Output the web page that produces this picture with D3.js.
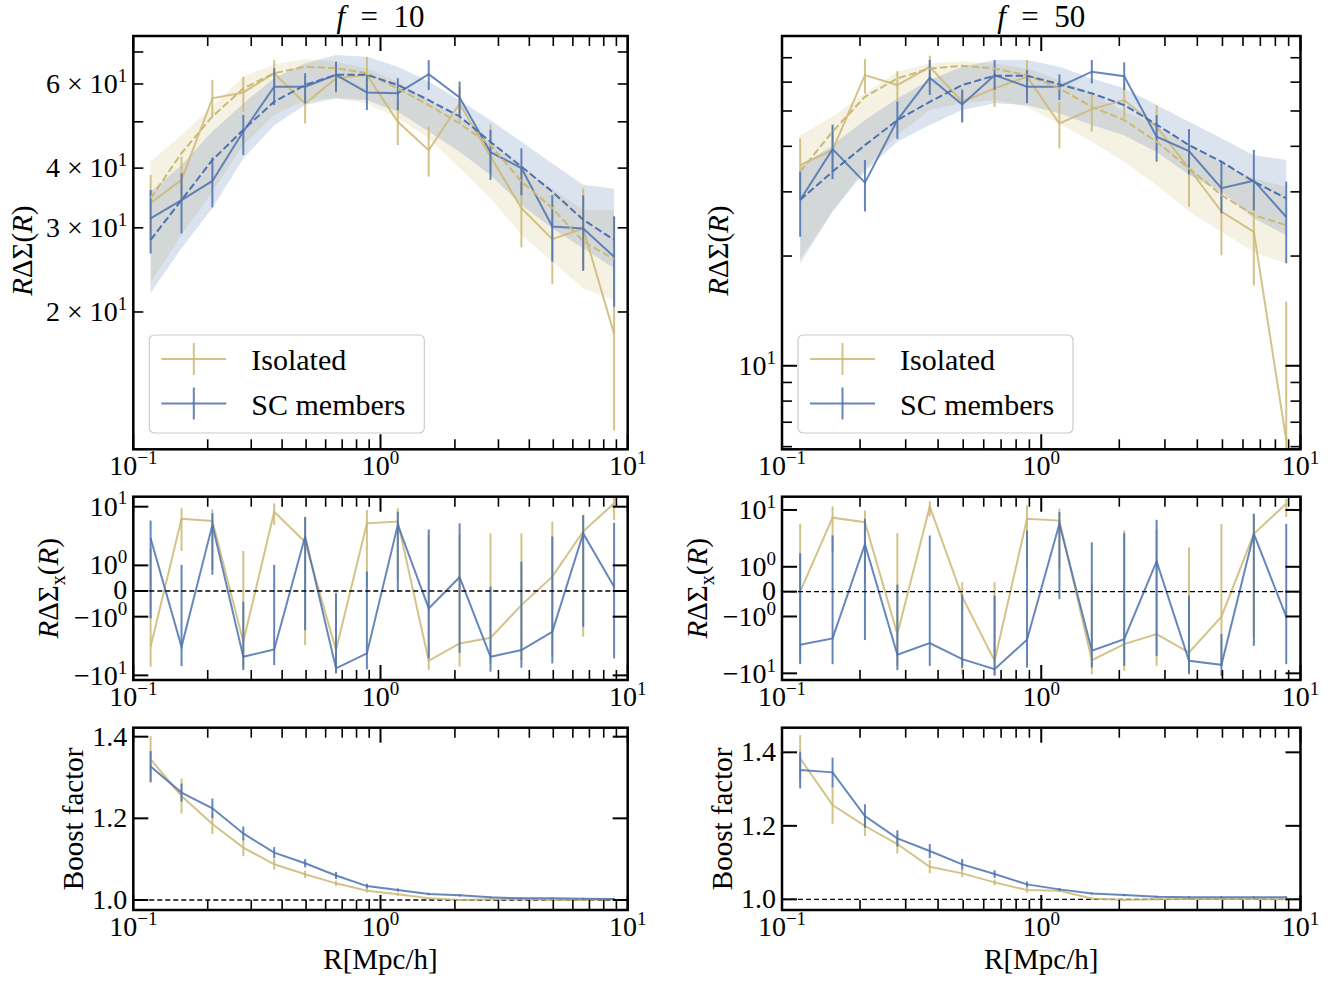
<!DOCTYPE html>
<html>
<head>
<meta charset="utf-8">
<script src="https://cdn.jsdelivr.net/npm/d3@7"></script>
<style>
  body { margin: 0; background: #fff; }
  svg text { font-family: "Liberation Serif", "DejaVu Serif", serif; fill: #000; }
</style>
</head>
<body>
<div id="chart"></div>
<script>
// radial bins (Mpc/h)
var R = [0.1175, 0.1567, 0.2089, 0.2786, 0.3715, 0.4955, 0.6607, 0.881, 1.175, 1.567, 2.089, 2.786, 3.715, 4.955, 6.607, 8.81];

// ---- f = 10 : R*DeltaSigma
var isoL    = [33.8, 37.8, 56.0, 57.6, 63.2, 54.6, 61.7, 62.7, 50.0, 43.6, 54.6, 42.3, 33.0, 28.4, 29.9, 18.0];
var isoLlo  = [28.3, 34.0, 51.3, 52.5, 59.2, 49.6, 57.4, 58.3, 44.7, 38.4, 49.6, 39.0, 27.3, 22.9, 24.4, 11.3];
var isoLhi  = [38.7, 42.3, 61.2, 62.1, 67.3, 60.7, 65.7, 68.4, 55.1, 48.8, 59.2, 49.4, 40.0, 33.5, 36.3, 31.7];
var scL     = [31.4, 34.3, 37.6, 47.7, 59.2, 59.2, 62.7, 57.6, 57.4, 62.9, 56.2, 43.2, 40.0, 30.2, 29.9, 26.1];
var scLlo   = [26.5, 29.2, 33.1, 42.6, 54.2, 54.6, 57.8, 52.9, 52.9, 58.3, 51.3, 37.8, 35.1, 25.5, 24.4, 20.5];
var scLhi   = [36.0, 39.0, 42.1, 51.7, 64.7, 63.2, 66.8, 62.7, 61.7, 67.3, 60.7, 48.1, 44.0, 35.1, 35.1, 31.7];
var isoModL = [34.6, 43.0, 51.3, 58.7, 63.2, 65.2, 64.7, 63.2, 58.7, 54.2, 49.6, 44.7, 37.5, 33.0, 28.1, 25.8];
var scModL  = [28.3, 34.3, 41.6, 48.1, 55.1, 59.7, 62.7, 62.7, 59.7, 55.5, 51.3, 45.4, 40.3, 35.7, 31.2, 28.3];
var isoBandLlo = [23.0, 29.0, 35.7, 44.7, 51.7, 55.5, 56.0, 54.6, 50.9, 46.2, 40.0, 34.6, 29.0, 25.5, 22.4, 21.2];
var isoBandLhi = [41.3, 46.9, 53.8, 62.1, 65.9, 67.7, 66.8, 64.7, 60.7, 55.5, 50.9, 45.4, 40.3, 36.2, 32.7, 32.7];
var scBandLlo  = [21.9, 27.2, 33.0, 41.9, 49.2, 54.2, 56.0, 55.5, 52.5, 47.7, 43.3, 38.7, 33.5, 29.9, 27.2, 24.7];
var scBandLhi  = [35.7, 40.6, 47.7, 54.6, 61.7, 66.3, 69.0, 68.4, 65.2, 60.7, 55.5, 50.4, 45.4, 40.9, 36.9, 36.2];

// ---- f = 50 : R*DeltaSigma
var isoR    = [35.5, 39.1, 62.7, 58.9, 66.1, 53.0, 57.7, 62.1, 46.2, 50.6, 53.6, 45.3, 34.8, 26.5, 23.3, 6.25];
var isoRlo  = [28.8, 34.1, 55.9, 52.5, 58.9, 46.7, 51.3, 54.7, 39.5, 43.9, 47.7, 39.1, 27.3, 20.1, 16.6, 3.0];
var isoRhi  = [42.1, 45.3, 69.4, 64.3, 70.9, 57.7, 63.4, 69.0, 53.0, 56.5, 59.5, 51.9, 40.3, 32.0, 29.4, 15.0];
var scR     = [28.5, 39.3, 31.8, 47.2, 61.7, 52.1, 62.7, 58.3, 58.3, 64.1, 62.3, 42.5, 38.8, 30.7, 32.2, 25.6];
var scRlo   = [22.6, 32.5, 26.5, 41.9, 55.3, 46.5, 57.1, 52.5, 53.6, 59.5, 57.1, 36.3, 33.5, 26.2, 26.7, 19.1];
var scRhi   = [34.1, 45.9, 36.7, 53.0, 69.0, 57.1, 69.0, 64.7, 63.0, 69.0, 68.0, 48.7, 44.6, 36.3, 39.1, 32.0];
var isoModR = [34.1, 43.9, 54.7, 61.4, 65.4, 66.5, 65.4, 62.7, 57.7, 51.3, 47.2, 41.2, 34.8, 29.4, 25.9, 24.3];
var scModR  = [28.5, 34.1, 40.3, 47.2, 53.0, 58.9, 62.5, 62.5, 59.2, 55.9, 51.9, 45.9, 40.3, 36.3, 32.0, 28.8];
var isoBandRlo = [19.7, 26.5, 34.8, 42.9, 50.3, 52.5, 53.6, 51.3, 46.2, 41.2, 36.3, 31.3, 26.5, 23.3, 20.5, 19.1];
var isoBandRhi = [42.9, 48.2, 55.9, 64.1, 67.5, 68.5, 67.5, 65.4, 60.8, 55.9, 49.8, 45.8, 40.3, 35.9, 32.7, 31.0];
var scBandRlo  = [19.1, 26.5, 34.1, 41.2, 45.8, 50.3, 52.5, 51.9, 49.3, 45.8, 42.9, 38.6, 33.4, 30.0, 25.4, 22.8];
var scBandRhi  = [35.2, 40.3, 47.2, 54.1, 60.8, 66.1, 69.0, 69.0, 66.1, 61.4, 57.7, 51.9, 46.7, 42.1, 37.8, 36.7];

// ---- cross component (symlog)
var isoXL   = [-3.26, 6.2, 5.7, -2.68, 8.2, 2.5, -3.71, 5.2, 5.6, -5.64, -2.86, -2.29, -0.55, 0.56, 3.8, 11.4];
var isoXLlo = [-7.13, 1.76, 0.82, -7.32, 4.9, -3.05, -9.02, 0.17, 0.43, -8.1, -7.13, -6.26, -5.49, -4.70, -2.20, 5.9];
var isoXLhi = [1.96, 9.4, 9.0, 1.76, 11.4, 6.8, -0.09, 8.8, 9.4, 3.3, 3.3, 3.5, 3.5, 5.6, 7.2, 14.8];
var scXL    = [2.9, -3.26, 4.9, -4.82, -3.62, 3.1, -7.6, -4.23, 4.9, -0.68, 0.54, -4.82, -3.71, -1.81, 3.5, 0.17];
var scXLlo  = [-1.07, -6.95, 0.63, -8.13, -6.68, -1.70, -9.26, -7.92, -0.03, -5.14, -4.12, -8.67, -7.42, -6.26, -1.49, -5.14];
var scXLhi  = [5.8, 1.02, 7.7, -0.42, 1.02, 6.6, -0.09, 0.76, 8.2, 4.1, 5.2, 0.17, 1.16, 3.1, 7.2, 5.3];

var isoXR   = [0, 7.3, 6.1, -2.04, 11.5, -0.2, -6.03, 7.0, 6.5, -5.87, -3.06, -2.04, -4.30, -1.01, 3.8, 12.9];
var isoXRlo = [-6.45, 1.8, 0.31, -7.38, 7.7, -10.4, -11.1, 0.98, 0.92, -10.4, -9.04, -7.38, -9.67, -7.38, -2.34, 7.5];
var isoXRhi = [5.7, 11.5, 9.8, 3.9, 14.3, 0.38, 0.38, 12.0, 10.5, 0.31, 4.35, 4.5, 2.2, 5.7, 8.3, 15.7];
var scXR    = [-3.15, -2.43, 2.5, -4.72, -2.94, -5.63, -8.45, -2.57, 5.7, -4.01, -2.50, 1.24, -6.03, -7.09, 3.8, -1.01];
var scXRlo  = [-6.90, -6.90, -2.60, -8.80, -7.38, -7.90, -10.8, -7.90, -0.30, -7.90, -7.38, -4.92, -10.4, -11.1, -3.28, -6.90];
var scXRhi  = [1.73, 3.55, 7.0, 0.28, 3.55, -0.12, -0.16, 4.35, 9.2, 2.7, 3.9, 6.7, -0.16, -2.04, 8.6, 5.7];

// ---- boost factor
var isoBL    = [1.3445, 1.2547, 1.1861, 1.1282, 1.0874, 1.0629, 1.0408, 1.0229, 1.0139, 1.0041, 1.0, 1.0016, 1.0024, 1.0, 1.0, 1.0016];
var isoBLerr = [0.057, 0.043, 0.025, 0.021, 0.013, 0.009, 0.0065, 0.005, 0.004, 0.003, 0.002, 0.002, 0.002, 0.002, 0.002, 0.002];
var scBL     = [1.327, 1.263, 1.2245, 1.163, 1.116, 1.090, 1.060, 1.034, 1.0245, 1.0147, 1.0114, 1.0065, 1.0041, 1.0041, 1.0033, 1.0024];
var scBLerr  = [0.038, 0.022, 0.024, 0.017, 0.0135, 0.01, 0.0085, 0.006, 0.004, 0.003, 0.003, 0.002, 0.002, 0.002, 0.002, 0.002];
var isoBR    = [1.3836, 1.2566, 1.1995, 1.1505, 1.0888, 1.0707, 1.0462, 1.0253, 1.0235, 1.0026, 0.998, 1.0, 1.0008, 1.0008, 1.0008, 1.0];
var isoBRerr = [0.063, 0.051, 0.027, 0.026, 0.018, 0.010, 0.0077, 0.0073, 0.003, 0.003, 0.003, 0.003, 0.003, 0.003, 0.003, 0.003];
var scBR     = [1.3518, 1.3455, 1.2267, 1.1659, 1.1314, 1.0952, 1.0688, 1.0407, 1.0271, 1.0162, 1.0117, 1.0072, 1.0054, 1.0054, 1.0054, 1.0054];
var scBRerr  = [0.05, 0.04, 0.032, 0.022, 0.0195, 0.0145, 0.0104, 0.0077, 0.004, 0.003, 0.003, 0.003, 0.003, 0.003, 0.003, 0.003];

var legendLabels = ["Isolated", "SC members"];

(function(){
  var width = 1341, height = 981;
  var yellow = "#ccb974", blue = "#4c72b0";
  var majLen = 15, minLen = 10;

  var svg = d3.select("#chart").append("svg")
    .attr("width", width).attr("height", height);
  svg.append("rect").attr("width", width).attr("height", height).attr("fill", "#fff");
  var defs = svg.append("defs");
  var clipN = 0;

  // symlog transform, linthresh = 1
  var C = 0.437;
  function T(v) {
    var a = Math.abs(v);
    return Math.sign(v) * (a <= 1 ? C * a : C + Math.log10(a));
  }

  var cols = [
    { x0: 133.3, x1: 627.7, f: "10", ylx: [22, 48, 73],
      top: { dom: [10.32, 75.6], iso: isoL, isoLo: isoLlo, isoHi: isoLhi, sc: scL, scLo: scLlo, scHi: scLhi,
             isoMod: isoModL, scMod: scModL, isoB: [isoBandLlo, isoBandLhi], scB: [scBandLlo, scBandLhi],
             labels: [[20, "2 × 10", "1"], [30, "3 × 10", "1"], [40, "4 × 10", "1"], [60, "6 × 10", "1"]] },
      mid: { dom: [-12.0, 14.8], iso: isoXL, isoLo: isoXLlo, isoHi: isoXLhi, sc: scXL, scLo: scXLlo, scHi: scXLhi },
      bot: { dom: [0.9755, 1.422], iso: isoBL, isoE: isoBLerr, sc: scBL, scE: scBLerr } },
    { x0: 782, x1: 1300.5, f: "50", ylx: [718, 697, 722],
      top: { dom: [5.9, 80.3], iso: isoR, isoLo: isoRlo, isoHi: isoRhi, sc: scR, scLo: scRlo, scHi: scRhi,
             isoMod: isoModR, scMod: scModR, isoB: [isoBandRlo, isoBandRhi], scB: [scBandRlo, scBandRhi],
             labels: [[10, "10", "1"]] },
      mid: { dom: [-13.1, 17.1], iso: isoXR, isoLo: isoXRlo, isoHi: isoXRhi, sc: scXR, scLo: scXRlo, scHi: scXRhi },
      bot: { dom: [0.971, 1.467], iso: isoBR, isoE: isoBRerr, sc: scBR, scE: scBRerr } }
  ];
  var rows = { top: [36, 449.3], mid: [496.7, 680], bot: [727.7, 910] };

  function supText(g, x, y, base, exp, anchor, size) {
    var t = g.append("text").attr("x", x).attr("y", y)
      .attr("text-anchor", anchor).style("font-size", size + "px");
    t.append("tspan").text(base);
    t.append("tspan").attr("dy", -size * 0.4).style("font-size", (size * 0.68) + "px").text(exp);
    return t;
  }

  function clipFor(g, x0, x1, y0, y1) {
    var id = "clip" + (clipN++);
    defs.append("clipPath").attr("id", id).append("rect")
      .attr("x", x0).attr("y", y0).attr("width", x1 - x0).attr("height", y1 - y0);
    return g.append("g").attr("clip-path", "url(#" + id + ")");
  }

  function xAxis(g, x, y0, y1) {
    var ticks = [];
    [0.1, 1, 10].forEach(function(d){ ticks.push({ v: d, major: true }); });
    [0.1, 1].forEach(function(d){
      for (var k = 2; k <= 9; k++) ticks.push({ v: k * d, major: false });
    });
    ticks.forEach(function(t){
      var len = t.major ? majLen : minLen, w = t.major ? 2 : 1.6;
      g.append("line").attr("x1", x(t.v)).attr("x2", x(t.v)).attr("y1", y1).attr("y2", y1 - len)
        .attr("stroke", "#000").attr("stroke-width", w);
      g.append("line").attr("x1", x(t.v)).attr("x2", x(t.v)).attr("y1", y0).attr("y2", y0 + len)
        .attr("stroke", "#000").attr("stroke-width", w);
    });
    [[0.1, "−1"], [1, "0"], [10, "1"]].forEach(function(l){
      supText(g, x(l[0]), y1 + 26, "10", l[1], "middle", 28);
    });
  }

  function yTicks(g, y, x0, x1, ticks) {
    ticks.forEach(function(t){
      var len = t.major ? majLen : minLen, w = t.major ? 2 : 1.6;
      g.append("line").attr("x1", x0).attr("x2", x0 + len).attr("y1", y(t.v)).attr("y2", y(t.v))
        .attr("stroke", "#000").attr("stroke-width", w);
      g.append("line").attr("x1", x1).attr("x2", x1 - len).attr("y1", y(t.v)).attr("y2", y(t.v))
        .attr("stroke", "#000").attr("stroke-width", w);
    });
  }

  function frame(g, x0, x1, y0, y1) {
    g.append("rect").attr("x", x0).attr("y", y0).attr("width", x1 - x0).attr("height", y1 - y0)
      .attr("fill", "none").attr("stroke", "#000").attr("stroke-width", 2.5);
  }

  function errSeries(g, x, y, vals, lo, hi, color) {
    g.selectAll(null).data(R).enter().append("line")
      .attr("x1", function(d){ return x(d); }).attr("x2", function(d){ return x(d); })
      .attr("y1", function(d, i){ return y(lo[i]); })
      .attr("y2", function(d, i){ return y(hi[i]); })
      .attr("stroke", color).attr("stroke-width", 2).attr("opacity", 0.85);
    g.append("path").datum(vals)
      .attr("d", d3.line().x(function(d, i){ return x(R[i]); }).y(function(d){ return y(d); }))
      .attr("fill", "none").attr("stroke", color).attr("stroke-width", 2).attr("opacity", 0.85);
  }

  function yLabel(g, cx, cy, parts) {
    var t = g.append("text").attr("transform", "translate(" + cx + "," + cy + ") rotate(-90)")
      .attr("text-anchor", "middle").attr("dy", "0.35em").style("font-size", "29px");
    parts.forEach(function(p){
      var s = t.append("tspan").text(p.t);
      if (p.i) s.style("font-style", "italic");
      if (p.dy) s.attr("dy", p.dy);
      if (p.fs) s.style("font-size", p.fs);
    });
  }

  function legend(g, bx) {
    var by = 335, bw = 275, bh = 98;
    g.append("rect").attr("x", bx).attr("y", by).attr("width", bw).attr("height", bh)
      .attr("rx", 5).attr("fill", "#fff").attr("fill-opacity", 0.8)
      .attr("stroke", "#cccccc").attr("stroke-width", 1.2);
    [[yellow, 359], [blue, 403.5]].forEach(function(r, i){
      g.append("line").attr("x1", bx + 12).attr("x2", bx + 77).attr("y1", r[1]).attr("y2", r[1])
        .attr("stroke", r[0]).attr("stroke-width", 2).attr("opacity", 0.85);
      g.append("line").attr("x1", bx + 44.5).attr("x2", bx + 44.5).attr("y1", r[1] - 16).attr("y2", r[1] + 16)
        .attr("stroke", r[0]).attr("stroke-width", 2).attr("opacity", 0.85);
      g.append("text").attr("x", bx + 102).attr("y", r[1] + 11).style("font-size", "30px")
        .text(legendLabels[i]);
    });
  }

  cols.forEach(function(c){
    var g = svg.append("g");
    var x = d3.scaleLog().domain([0.1, 10]).range([c.x0, c.x1]);
    var cx = (c.x0 + c.x1) / 2;

    // title
    var tt = g.append("text").attr("x", cx).attr("y", 27).attr("text-anchor", "middle").style("font-size", "31px");
    tt.append("tspan").style("font-style", "italic").text("f");
    tt.append("tspan").text("\u2002=\u2002" + c.f);

    // ---------- top panel
    var r = rows.top, p = c.top;
    var yTop = d3.scaleLog().domain(p.dom).range([r[1], r[0]]);
    var pg = clipFor(g, c.x0, c.x1, r[0], r[1]);
    var band = function(b){
      return d3.area().x(function(d, i){ return x(R[i]); })
        .y0(function(d, i){ return yTop(b[0][i]); }).y1(function(d, i){ return yTop(b[1][i]); });
    };
    pg.append("path").datum(R).attr("d", band(p.isoB)).attr("fill", yellow).attr("fill-opacity", 0.2);
    pg.append("path").datum(R).attr("d", band(p.scB)).attr("fill", blue).attr("fill-opacity", 0.2);
    errSeries(pg, x, yTop, p.iso, p.isoLo, p.isoHi, yellow);
    errSeries(pg, x, yTop, p.sc, p.scLo, p.scHi, blue);
    [[p.isoMod, yellow], [p.scMod, blue]].forEach(function(m){
      pg.append("path").datum(m[0])
        .attr("d", d3.line().x(function(d, i){ return x(R[i]); }).y(function(d){ return yTop(d); }))
        .attr("fill", "none").attr("stroke", m[1]).attr("stroke-width", 2)
        .attr("stroke-dasharray", "7.4,3.2");
    });
    var topTicks = [];
    [1, 10].forEach(function(d){
      for (var k = 1; k <= 9; k++) {
        var v = k * d;
        if (v > p.dom[0] && v < p.dom[1] - 0.5) topTicks.push({ v: v, major: k === 1 });
      }
    });
    yTicks(g, yTop, c.x0, c.x1, topTicks);
    p.labels.forEach(function(l){
      supText(g, c.x0 - 6, yTop(l[0]) + 9, l[1], l[2], "end", 28);
    });
    xAxis(g, x, r[0], r[1]);
    frame(g, c.x0, c.x1, r[0], r[1]);
    legend(g, c.x0 + 16);
    yLabel(g, c.ylx[0], (r[0] + r[1]) / 2 + 8,
      [{ t: "R", i: true }, { t: "ΔΣ(" }, { t: "R", i: true }, { t: ")" }]);

    // ---------- middle panel
    r = rows.mid; p = c.mid;
    var yT = d3.scaleLinear().domain([T(p.dom[0]), T(p.dom[1])]).range([r[1], r[0]]);
    var yMid = function(v){ return yT(T(v)); };
    pg = clipFor(g, c.x0, c.x1, r[0], r[1]);
    errSeries(pg, x, yMid, p.iso, p.isoLo, p.isoHi, yellow);
    errSeries(pg, x, yMid, p.sc, p.scLo, p.scHi, blue);
    pg.append("line").attr("x1", c.x0).attr("x2", c.x1).attr("y1", yMid(0)).attr("y2", yMid(0))
      .attr("stroke", "#000").attr("stroke-width", 1.3).attr("stroke-dasharray", "5,3");
    yTicks(g, yMid, c.x0, c.x1, [-10, -1, 0, 1, 10].map(function(v){ return { v: v, major: true }; }));
    [[10, "10", "1"], [1, "10", "0"], [-1, "−10", "0"], [-10, "−10", "1"]].forEach(function(l){
      supText(g, c.x0 - 6, yMid(l[0]) + (l[0] < 0 ? 10 : 9), l[1], l[2], "end", 28);
    });
    g.append("text").attr("x", c.x0 - 6).attr("y", yMid(0) + 8).attr("text-anchor", "end")
      .style("font-size", "28px").text("0");
    xAxis(g, x, r[0], r[1]);
    frame(g, c.x0, c.x1, r[0], r[1]);
    yLabel(g, c.ylx[1], (r[0] + r[1]) / 2,
      [{ t: "R", i: true }, { t: "ΔΣ" }, { t: "x", dy: 7, fs: "20px" }, { t: "(", dy: -7 },
       { t: "R", i: true }, { t: ")" }]);

    // ---------- bottom panel
    r = rows.bot; p = c.bot;
    var yBot = d3.scaleLinear().domain(p.dom).range([r[1], r[0]]);
    pg = clipFor(g, c.x0, c.x1, r[0], r[1]);
    pg.append("line").attr("x1", c.x0).attr("x2", c.x1).attr("y1", yBot(1)).attr("y2", yBot(1))
      .attr("stroke", "#000").attr("stroke-width", 1.3).attr("stroke-dasharray", "5,3");
    errSeries(pg, x, yBot, p.iso, p.iso.map(function(v, i){ return v - p.isoE[i]; }),
      p.iso.map(function(v, i){ return v + p.isoE[i]; }), yellow);
    errSeries(pg, x, yBot, p.sc, p.sc.map(function(v, i){ return v - p.scE[i]; }),
      p.sc.map(function(v, i){ return v + p.scE[i]; }), blue);
    yTicks(g, yBot, c.x0, c.x1, [1.0, 1.2, 1.4].map(function(v){ return { v: v, major: true }; }));
    [1.0, 1.2, 1.4].forEach(function(v){
      g.append("text").attr("x", c.x0 - 6).attr("y", yBot(v) + 9).attr("text-anchor", "end")
        .style("font-size", "28px").text(v.toFixed(1));
    });
    xAxis(g, x, r[0], r[1]);
    frame(g, c.x0, c.x1, r[0], r[1]);
    yLabel(g, c.ylx[2], (r[0] + r[1]) / 2, [{ t: "Boost factor" }]);
    g.append("text").attr("x", cx).attr("y", 969).attr("text-anchor", "middle")
      .style("font-size", "29px").text("R[Mpc/h]");
  });
})();
</script>
</body>
</html>
